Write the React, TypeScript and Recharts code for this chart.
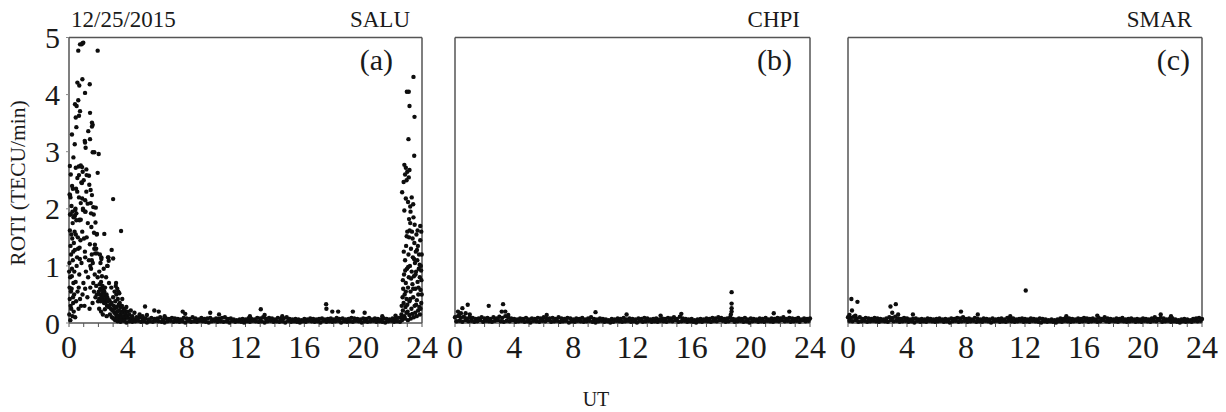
import { Scatter, ScatterChart, XAxis, YAxis } from "recharts";

// ROTI samples are taken every 0.2 h along each satellite track
const EPOCH_H = 0.2;

const hourTicks = [0, 1, 2, 3, 4, 5, 6, 7, 8, 9, 10, 11, 12, 13, 14, 15, 16, 17, 18, 19, 20, 21, 22, 23, 24];
const utLabels = [0, 4, 8, 12, 16, 20, 24];
const rotiTicks = [0, 1, 2, 3, 4, 5];

// SALU: scattered points during the scintillation hours
const saluEarly: [number, number][] = [
  [0.75, 4.88], [0.86, 4.88], [0.97, 4.91], [0.92, 4.9], [0.63, 4.77], [1.95, 4.77],
  [0.57, 4.21], [0.91, 4.27], [0.7, 4.16], [1.41, 4.18], [1.09, 4.03],
  [0.63, 3.9], [0.41, 3.83], [0.52, 3.8], [0.75, 3.71], [1.43, 3.68], [0.46, 3.6], [0.68, 3.63],
  [1.56, 3.51], [1.61, 3.47], [1.56, 3.44], [0.5, 3.43], [1.31, 3.36], [1.43, 3.22], [0.39, 3.13],
  [1.07, 3.19], [1.09, 3.16], [1.13, 3.07], [1.61, 2.99], [1.72, 2.99], [2.02, 2.96],
  [0.46, 2.72], [0.66, 2.74], [0.8, 2.76], [0.89, 2.73], [1.18, 2.69], [0.68, 2.59], [1.36, 2.58],
  [1.95, 2.63], [0.57, 2.54], [0.93, 2.65], [1.2, 2.59], [0.84, 2.46], [1.0, 2.5],
  [0.07, 2.24], [0.1, 2.2], [0.48, 2.35], [1.47, 2.33], [1.56, 2.24], [0.9, 2.18], [1.1, 2.15],
  [1.65, 2.03], [1.27, 2.09], [0.42, 1.98], [0.5, 1.92], [0.4, 1.88], [0.36, 1.86],
  [0.95, 1.98], [1.1, 1.95], [1.5, 1.92], [0.7, 1.81], [0.8, 1.81], [1.8, 1.76],
  [3.0, 2.17], [3.54, 1.61], [2.4, 1.56], [2.9, 1.28], [3.0, 1.13], [2.65, 1.15], [2.7, 1.09],
  [0.02, 0.15], [0.05, 0.42], [0.08, 0.8], [0.03, 1.05], [0.1, 1.35], [0.06, 1.62], [0.12, 1.9],
  [0.04, 2.25], [0.15, 0.25], [0.18, 0.6], [0.2, 0.95], [0.14, 1.2], [0.22, 1.48], [0.25, 1.75],
  [0.17, 2.05], [0.28, 0.35], [0.3, 0.7], [0.26, 1.1], [0.33, 1.4], [0.31, 1.85], [0.09, 0.05],
  [0.13, 0.55], [0.24, 0.12], [0.35, 0.5], [0.07, 1.9], [0.21, 2.4], [0.11, 0.3], [0.19, 0.82],
  [0.29, 1.25], [0.36, 0.9], [0.04, 0.62], [0.16, 1.55], [0.27, 0.45], [0.01, 0.9], [0.23, 1.95],
  [0.32, 0.2], [0.38, 1.6], [0.12, 2.6], [0.06, 2.75], [0.3, 2.9], [0.2, 3.3], [0.26, 2.35],
  [0.42, 0.1], [0.48, 0.38], [0.45, 0.72], [0.52, 1.0], [0.4, 1.28], [0.55, 1.15], [0.6, 1.5],
  [0.5, 1.8], [0.44, 2.0], [0.58, 0.55], [0.65, 0.25], [0.7, 0.85], [0.62, 1.3], [0.72, 1.8],
  [0.78, 1.45], [0.68, 2.2], [0.75, 0.42], [0.82, 0.3], [0.85, 1.05], [0.9, 1.6], [0.95, 2.0],
  [0.88, 2.45], [0.98, 0.7], [0.92, 0.5], [0.8, 2.1], [0.56, 2.3], [0.46, 1.55], [0.66, 0.62],
  [0.74, 1.12],
  [1.05, 0.3], [1.1, 0.6], [1.15, 0.9], [1.08, 1.25], [1.2, 1.5], [1.12, 1.95], [1.25, 0.45],
  [1.3, 0.8], [1.35, 1.1], [1.28, 1.75], [1.4, 0.25], [1.45, 0.62], [1.5, 0.95], [1.42, 1.38],
  [1.55, 1.2], [1.48, 2.1], [1.6, 0.35], [1.65, 0.7], [1.7, 0.55], [1.62, 1.05], [1.75, 0.85],
  [1.72, 1.3], [1.8, 0.45], [1.85, 0.65], [1.78, 1.22], [1.9, 0.5], [1.95, 0.8], [1.88, 1.55],
  [1.98, 0.38], [1.18, 2.3], [1.52, 1.68], [1.68, 1.9], [1.82, 2.02], [1.02, 1.48], [1.38, 2.42],
  [1.7, 1.58], [1.9, 1.56], [1.76, 1.37], [1.85, 1.3], [1.9, 1.22], [0.72, 1.32], [1.1, 1.15],
  [1.55, 1.1], [2.2, 1.15], [1.45, 1.0], [2.6, 1.0],
  [2.02, 0.55], [2.05, 0.42], [2.08, 0.68], [2.1, 0.5], [2.12, 0.6], [2.15, 0.38], [2.18, 0.72],
  [2.2, 0.48], [2.22, 0.58], [2.25, 0.44], [2.28, 0.65], [2.3, 0.52], [2.32, 0.4], [2.35, 0.6],
  [2.38, 0.35], [2.4, 0.55], [2.42, 0.48], [2.45, 0.62], [2.48, 0.42], [2.5, 0.36], [2.55, 0.5],
  [2.58, 0.3], [2.6, 0.45], [2.65, 0.38], [2.7, 0.28], [2.75, 0.4], [2.8, 0.32], [2.85, 0.25],
  [2.9, 0.35], [2.95, 0.22], [2.06, 0.9], [2.14, 1.05], [2.24, 0.82], [2.36, 0.95], [2.52, 0.8],
  [2.62, 1.0], [2.68, 1.15], [2.72, 0.7], [2.88, 0.62], [2.18, 0.2], [2.3, 0.15], [2.44, 0.24],
  [2.56, 0.12], [2.78, 0.15], [2.92, 0.1], [2.1, 1.2], [2.2, 1.12], [2.05, 0.25],
  [3.0, 0.45], [3.05, 0.3], [3.08, 0.18], [3.1, 0.55], [3.12, 0.25], [3.15, 0.38], [3.2, 0.15],
  [3.22, 0.5], [3.25, 0.28], [3.3, 0.2], [3.32, 0.42], [3.35, 0.12], [3.38, 0.32], [3.4, 0.22],
  [3.45, 0.35], [3.48, 0.15], [3.5, 0.28], [3.55, 0.2], [3.58, 0.1], [3.6, 0.3], [3.65, 0.18],
  [3.7, 0.25], [3.75, 0.12], [3.8, 0.22], [3.85, 0.16], [3.9, 0.28], [3.95, 0.12], [4.0, 0.2],
  [3.18, 0.65], [3.28, 0.6], [3.42, 0.52], [3.62, 0.42], [3.02, 0.08], [3.14, 0.05], [3.26, 0.06],
  [3.52, 0.05], [3.2, 0.7], [3.35, 0.55],
  [4.1, 0.15], [4.2, 0.22], [4.3, 0.12], [4.45, 0.18], [4.6, 0.1], [4.8, 0.15], [5.0, 0.12],
  [5.17, 0.29], [5.3, 0.14], [5.8, 0.22], [6.1, 0.2], [6.5, 0.12],
];

// SALU: isolated bumps above the quiet-time floor
const saluQuiet: [number, number][] = [
  [7.73, 0.2], [7.9, 0.16], [9.6, 0.18], [10.2, 0.15], [12.3, 0.12], [13.04, 0.24], [13.3, 0.14],
  [14.5, 0.12], [17.48, 0.33], [17.5, 0.25], [17.9, 0.2], [18.3, 0.2], [19.3, 0.2], [20.1, 0.18],
  [21.3, 0.12], [22.2, 0.13],
];

const saluLate: [number, number][] = [
  [23.42, 4.31], [22.97, 4.05], [23.1, 4.05], [23.15, 3.8], [23.49, 3.61], [23.08, 3.22], [23.47, 2.93],
  [22.8, 2.77], [22.9, 2.72], [23.0, 2.65], [22.85, 2.6], [23.1, 2.55], [22.95, 2.5], [23.15, 2.68],
  [22.75, 2.47], [22.65, 2.29], [22.9, 2.18], [23.2, 2.04], [23.4, 2.08], [22.8, 1.97], [23.88, 1.7],
  [23.05, 2.12], [23.3, 2.2], [23.95, 1.6],
  [22.6, 0.15], [22.62, 0.3], [22.65, 0.1], [22.68, 0.45], [22.7, 0.22], [22.72, 0.6], [22.75, 0.35],
  [22.78, 0.85], [22.8, 0.12], [22.82, 0.5], [22.85, 1.1], [22.88, 0.28], [22.9, 0.7], [22.92, 1.35],
  [22.95, 0.42], [22.98, 0.95], [23.0, 1.6], [23.02, 0.2], [23.05, 0.62], [23.08, 1.2], [23.1, 0.8],
  [23.12, 1.5], [23.15, 0.38], [23.18, 1.0], [23.2, 1.75], [23.22, 0.55], [23.25, 1.3], [23.28, 0.25],
  [23.3, 0.9], [23.32, 1.6], [23.35, 0.68], [23.38, 1.15], [23.4, 0.45], [23.42, 1.85], [23.45, 0.82],
  [23.48, 1.4], [23.5, 0.3], [23.52, 1.05], [23.55, 0.6], [23.58, 1.25], [23.6, 0.9], [23.62, 1.55],
  [23.65, 0.4], [23.68, 1.1], [23.7, 0.72], [23.72, 1.35], [23.75, 0.5], [23.78, 0.95], [23.8, 1.2],
  [23.82, 0.28], [23.85, 0.8], [23.88, 1.45], [23.9, 0.58], [23.92, 1.0], [23.95, 0.35], [23.98, 1.2],
  [23.96, 0.75], [23.86, 0.15], [23.74, 0.22], [23.64, 0.12], [23.54, 0.18], [23.44, 0.1], [23.34, 0.16],
  [23.24, 0.08], [23.14, 0.14], [23.04, 0.05], [22.94, 0.18], [22.84, 0.08], [22.74, 0.1], [22.64, 0.05],
  [23.06, 0.98], [23.16, 1.62], [23.26, 0.78], [23.36, 1.48], [23.46, 1.12], [23.56, 0.85], [23.66, 1.28],
  [23.76, 0.62], [23.84, 1.02], [23.94, 0.92], [22.96, 1.52], [22.86, 0.92], [22.76, 1.25], [23.12, 1.82],
  [23.22, 1.95], [23.5, 1.72], [23.7, 1.62], [23.6, 0.32], [23.4, 0.6], [23.2, 0.42], [23.0, 0.32],
  [22.9, 0.55], [22.7, 0.75], [23.9, 0.25], [23.98, 0.5],
];

// SALU quiet floor, two tracks, starting at 3.2 h and 3.3 h
const saluFloorStart = 3.2;
const saluFloorHi = [
  0.09, 0.08, 0.1, 0.07, 0.09, 0.08, 0.06, 0.09, 0.1, 0.07,
  0.08, 0.06, 0.09, 0.07, 0.08, 0.1, 0.06, 0.08, 0.07, 0.09,
  0.08, 0.07, 0.06, 0.09, 0.08, 0.07, 0.1, 0.08, 0.06, 0.09,
  0.07, 0.08, 0.09, 0.06, 0.08, 0.07, 0.09, 0.1, 0.07, 0.08,
  0.06, 0.05, 0.06, 0.07, 0.06, 0.08, 0.07, 0.06, 0.09, 0.08,
  0.1, 0.07, 0.09, 0.08, 0.06, 0.09, 0.07, 0.08, 0.1, 0.07,
  0.06, 0.07, 0.06, 0.05, 0.07, 0.06, 0.08, 0.07, 0.06, 0.07,
  0.08, 0.06, 0.07, 0.08, 0.06, 0.09, 0.07, 0.08, 0.06, 0.07,
  0.09, 0.08, 0.07, 0.06, 0.08, 0.07, 0.09, 0.06, 0.08, 0.07,
  0.06, 0.08, 0.07, 0.06, 0.08, 0.07, 0.09, 0.1,
];
const saluFloorLo = [
  0.03, 0.02, 0.04, 0.01, 0.03, 0.02, 0.03, 0.04, 0.02, 0.03,
  0.01, 0.03, 0.02, 0.04, 0.03, 0.02, 0.01, 0.03, 0.04, 0.02,
  0.03, 0.02, 0.03, 0.01, 0.04, 0.02, 0.03, 0.02, 0.04, 0.03,
  0.02, 0.01, 0.03, 0.04, 0.02, 0.03, 0.02, 0.03, 0.01, 0.04,
  0.02, 0.03, 0.02, 0.01, 0.03, 0.02, 0.04, 0.03, 0.02, 0.03,
  0.01, 0.03, 0.04, 0.02, 0.03, 0.02, 0.03, 0.01, 0.04, 0.02,
  0.03, 0.02, 0.01, 0.03, 0.02, 0.04, 0.03, 0.02, 0.03, 0.01,
  0.04, 0.02, 0.03, 0.02, 0.03, 0.04, 0.01, 0.03, 0.02, 0.03,
  0.02, 0.04, 0.03, 0.01, 0.03, 0.02, 0.03, 0.04, 0.02, 0.03,
  0.02, 0.01, 0.03, 0.04, 0.02, 0.03, 0.02,
];

// CHPI
const chpiOutliers: [number, number][] = [
  [0.4, 0.17], [0.5, 0.26], [0.72, 0.17], [0.86, 0.32], [0.3, 0.15], [2.28, 0.3], [3.16, 0.2],
  [3.25, 0.33], [3.4, 0.2], [3.6, 0.14], [9.5, 0.19], [11.6, 0.15], [15.3, 0.16], [18.7, 0.54],
  [18.7, 0.34], [18.7, 0.26], [18.7, 0.2], [18.65, 0.15], [21.55, 0.17], [22.6, 0.2], [0.2, 0.2],
  [1.0, 0.15], [6.2, 0.14], [13.9, 0.13],
];
const chpiFloorHi = [
  0.1, 0.12, 0.09, 0.11, 0.08, 0.1, 0.09, 0.07, 0.08, 0.1,
  0.08, 0.09, 0.07, 0.1, 0.08, 0.11, 0.09, 0.12, 0.1, 0.08,
  0.07, 0.06, 0.08, 0.07, 0.09, 0.06, 0.08, 0.07, 0.09, 0.08,
  0.1, 0.07, 0.08, 0.09, 0.07, 0.1, 0.08, 0.07, 0.09, 0.08,
  0.06, 0.08, 0.07, 0.09, 0.06, 0.08, 0.1, 0.07, 0.06, 0.08,
  0.07, 0.06, 0.05, 0.07, 0.06, 0.08, 0.07, 0.09, 0.06, 0.08,
  0.07, 0.06, 0.08, 0.07, 0.09, 0.08, 0.06, 0.07, 0.08, 0.06,
  0.08, 0.07, 0.09, 0.08, 0.1, 0.07, 0.11, 0.08, 0.07, 0.06,
  0.07, 0.05, 0.06, 0.07, 0.06, 0.08, 0.07, 0.09, 0.08, 0.1,
  0.09, 0.07, 0.08, 0.1, 0.07, 0.06, 0.08, 0.07, 0.09, 0.06,
  0.08, 0.07, 0.06, 0.08, 0.07, 0.09, 0.06, 0.08, 0.07, 0.09,
  0.08, 0.1, 0.07, 0.09, 0.08, 0.07, 0.09, 0.06, 0.08, 0.07,
  0.08,
];
const chpiFloorLo = [
  0.03, 0.04, 0.02, 0.05, 0.03, 0.04, 0.02, 0.03, 0.05, 0.02,
  0.04, 0.03, 0.02, 0.04, 0.05, 0.03, 0.02, 0.04, 0.03, 0.05,
  0.02, 0.03, 0.04, 0.02, 0.03, 0.01, 0.04, 0.03, 0.02, 0.04,
  0.03, 0.05, 0.02, 0.03, 0.04, 0.02, 0.03, 0.04, 0.01, 0.03,
  0.02, 0.04, 0.03, 0.02, 0.03, 0.04, 0.02, 0.01, 0.03, 0.04,
  0.02, 0.03, 0.01, 0.02, 0.04, 0.03, 0.02, 0.03, 0.04, 0.02,
  0.03, 0.01, 0.04, 0.02, 0.03, 0.04, 0.02, 0.03, 0.02, 0.04,
  0.03, 0.02, 0.04, 0.03, 0.05, 0.02, 0.03, 0.04, 0.02, 0.03,
  0.02, 0.01, 0.03, 0.02, 0.04, 0.03, 0.02, 0.04, 0.03, 0.05,
  0.04, 0.02, 0.03, 0.05, 0.02, 0.03, 0.04, 0.02, 0.03, 0.01,
  0.03, 0.04, 0.02, 0.03, 0.02, 0.04, 0.03, 0.02, 0.04, 0.03,
  0.05, 0.03, 0.04, 0.02, 0.03, 0.04, 0.02, 0.05, 0.03, 0.04,
];

// SMAR
const smarOutliers: [number, number][] = [
  [0.23, 0.42], [0.64, 0.37], [0.27, 0.22], [2.88, 0.29], [3.24, 0.33], [3.0, 0.18], [3.4, 0.15],
  [4.4, 0.15], [7.66, 0.2], [8.8, 0.15], [12.05, 0.57], [21.2, 0.15], [0.1, 0.14], [0.5, 0.13],
  [11.0, 0.12], [16.9, 0.13], [21.9, 0.12], [14.8, 0.12],
];
const smarFloorHi = [
  0.1, 0.09, 0.11, 0.08, 0.1, 0.07, 0.09, 0.08, 0.07, 0.09,
  0.08, 0.07, 0.06, 0.08, 0.1, 0.09, 0.11, 0.08, 0.07, 0.09,
  0.08, 0.06, 0.07, 0.08, 0.06, 0.07, 0.06, 0.08, 0.07, 0.06,
  0.07, 0.08, 0.06, 0.07, 0.06, 0.08, 0.07, 0.09, 0.08, 0.1,
  0.07, 0.08, 0.06, 0.09, 0.07, 0.06, 0.08, 0.07, 0.06, 0.08,
  0.06, 0.07, 0.08, 0.06, 0.09, 0.07, 0.08, 0.06, 0.07, 0.08,
  0.07, 0.06, 0.08, 0.07, 0.06, 0.08, 0.07, 0.06, 0.05, 0.06,
  0.05, 0.06, 0.08, 0.07, 0.09, 0.08, 0.07, 0.06, 0.08, 0.07,
  0.09, 0.08, 0.07, 0.08, 0.06, 0.09, 0.07, 0.1, 0.08, 0.07,
  0.06, 0.08, 0.07, 0.09, 0.06, 0.07, 0.08, 0.06, 0.07, 0.06,
  0.08, 0.07, 0.06, 0.08, 0.1, 0.07, 0.09, 0.08, 0.06, 0.07,
  0.08, 0.06, 0.05, 0.06, 0.07, 0.06, 0.05, 0.07, 0.08, 0.09,
  0.07,
];
const smarFloorLo = [
  0.04, 0.03, 0.05, 0.02, 0.03, 0.04, 0.02, 0.03, 0.04, 0.03,
  0.02, 0.04, 0.03, 0.02, 0.05, 0.03, 0.04, 0.02, 0.03, 0.04,
  0.02, 0.03, 0.01, 0.04, 0.02, 0.03, 0.02, 0.04, 0.03, 0.02,
  0.03, 0.04, 0.02, 0.03, 0.01, 0.03, 0.04, 0.02, 0.03, 0.04,
  0.02, 0.03, 0.04, 0.02, 0.03, 0.02, 0.04, 0.03, 0.01, 0.03,
  0.04, 0.02, 0.03, 0.02, 0.04, 0.03, 0.02, 0.03, 0.04, 0.02,
  0.03, 0.02, 0.04, 0.03, 0.02, 0.01, 0.03, 0.02, 0.03, 0.02,
  0.01, 0.03, 0.02, 0.04, 0.03, 0.02, 0.03, 0.04, 0.02, 0.03,
  0.04, 0.02, 0.03, 0.04, 0.02, 0.03, 0.05, 0.03, 0.02, 0.04,
  0.03, 0.02, 0.04, 0.03, 0.02, 0.03, 0.04, 0.02, 0.03, 0.02,
  0.04, 0.03, 0.02, 0.04, 0.03, 0.05, 0.02, 0.03, 0.04, 0.02,
  0.03, 0.02, 0.01, 0.03, 0.02, 0.03, 0.02, 0.04, 0.03, 0.04,
];

type Pt = { ut: number; roti: number };

const fromPairs = (pairs: [number, number][]): Pt[] => pairs.map(([ut, roti]) => ({ ut, roti }));
const fromTrack = (start: number, values: number[]): Pt[] =>
  values.map((roti, i) => ({ ut: +(start + i * EPOCH_H).toFixed(2), roti }));

// margins leave 1px for each axis (an axis with 0 size is not drawn)
const panels = [
  {
    id: "a",
    station: "SALU",
    left: 0,
    width: 440,
    margin: { top: 36.5, right: 17, bottom: 88, left: 68 },
    showY: true,
    labelX: 393,
    data: [
      ...fromTrack(saluFloorStart, saluFloorHi),
      ...fromTrack(saluFloorStart + 0.1, saluFloorLo),
      ...fromPairs(saluQuiet),
      ...fromPairs(saluEarly),
      ...fromPairs(saluLate),
    ],
  },
  {
    id: "b",
    station: "CHPI",
    left: 440,
    width: 390,
    margin: { top: 36.5, right: 19, bottom: 88, left: 14 },
    showY: false,
    labelX: 792,
    data: [...fromTrack(0, chpiFloorHi), ...fromTrack(0.1, chpiFloorLo), ...fromPairs(chpiOutliers)],
  },
  {
    id: "c",
    station: "SMAR",
    left: 830,
    width: 396,
    margin: { top: 36.5, right: 23, bottom: 88, left: 17 },
    showY: false,
    labelX: 1190,
    data: [...fromTrack(0, smarFloorHi), ...fromTrack(0.1, smarFloorLo), ...fromPairs(smarOutliers)],
  },
];

const SERIF = "'Liberation Serif', 'Times New Roman', serif";
const AXIS = "#555";

const Dot = (p: any) => <circle cx={p.cx} cy={p.cy} r={2.2} fill="#0d0d0d" />;

function Panel({ panel }: { panel: (typeof panels)[number] }) {
  return (
    <div style={{ position: "absolute", left: panel.left, top: 0 }}>
      <ScatterChart width={panel.width} height={412} margin={panel.margin}>
        <XAxis
          xAxisId="b"
          dataKey="ut"
          type="number"
          domain={[0, 24]}
          ticks={hourTicks}
          interval={0}
          height={1}
          tickFormatter={(v: number) => (utLabels.includes(v) ? String(v) : "")}
          tick={{ fontSize: 32, fontFamily: SERIF, fill: "#1a1a1a" }}
          tickSize={4}
          tickMargin={8}
          tickLine={{ stroke: AXIS }}
          axisLine={{ stroke: AXIS, strokeWidth: 1.5 }}
        />
        <XAxis
          xAxisId="t"
          orientation="top"
          type="number"
          domain={[0, 24]}
          ticks={hourTicks}
          interval={0}
          height={1}
          tick={false}
          tickSize={4}
          tickLine={{ stroke: "#888" }}
          axisLine={{ stroke: AXIS, strokeWidth: 1.5 }}
        />
        <YAxis
          yAxisId="l"
          dataKey="roti"
          type="number"
          domain={[0, 5]}
          ticks={rotiTicks}
          interval={0}
          width={1}
          tick={panel.showY ? { fontSize: 30, fontFamily: SERIF, fill: "#1a1a1a" } : false}
          tickSize={3}
          tickMargin={6}
          tickLine={{ stroke: "#888" }}
          axisLine={{ stroke: AXIS, strokeWidth: 1.5 }}
        />
        <YAxis
          yAxisId="r"
          orientation="right"
          type="number"
          domain={[0, 5]}
          ticks={rotiTicks}
          interval={0}
          width={1}
          tick={false}
          tickSize={5}
          tickLine={{ stroke: "#aaa" }}
          axisLine={{ stroke: AXIS, strokeWidth: 1.5 }}
        />
        <Scatter xAxisId="b" yAxisId="l" data={panel.data} shape={Dot} isAnimationActive={false} />
      </ScatterChart>
    </div>
  );
}

export default function App() {
  return (
    <div style={{ position: "absolute", left: 0, top: 0, width: 1226, height: 412, background: "#fff" }}>
      {panels.map((p) => (
        <Panel key={p.id} panel={p} />
      ))}
      <svg
        width={1226}
        height={412}
        style={{ position: "absolute", left: 0, top: 0, pointerEvents: "none" }}
        fontFamily={SERIF}
        fill="#1a1a1a"
      >
        <text x={71} y={27} fontSize={23}>
          12/25/2015
        </text>
        <text x={410} y={27} fontSize={23} textAnchor="end">
          SALU
        </text>
        <text x={800} y={27} fontSize={23} textAnchor="end">
          CHPI
        </text>
        <text x={1192} y={27} fontSize={23} textAnchor="end">
          SMAR
        </text>
        {panels.map((p) => (
          <text key={p.id} x={p.labelX} y={70} fontSize={30} textAnchor="end">
            ({p.id})
          </text>
        ))}
        <text transform="translate(25,183) rotate(-90)" fontSize={21.5} textAnchor="middle">
          ROTI (TECU/min)
        </text>
        <text x={596} y={406} fontSize={20} textAnchor="middle">
          UT
        </text>
      </svg>
    </div>
  );
}
